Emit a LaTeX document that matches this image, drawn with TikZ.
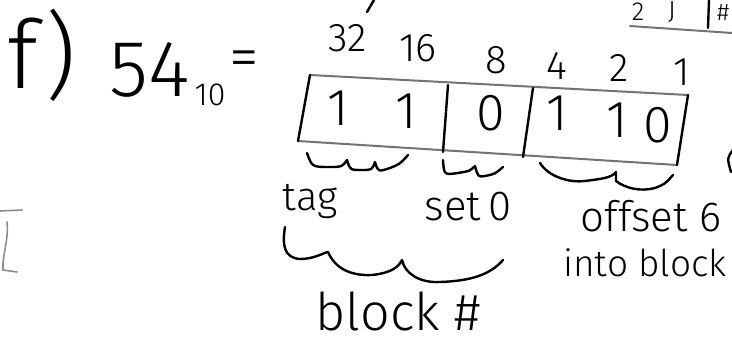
\documentclass[tikz,border=0pt]{standalone}
\usepackage{fontspec}
\newfontfamily\handfont{Fira Sans Light}

\begin{document}
\begin{tikzpicture}[x=1pt,y=-1pt,
  ink/.style={line width=2.4pt,line cap=round,line join=round},
  pencil/.style={line width=2pt,black!55,line cap=round},
  faint/.style={line width=1.6pt,black!45,line cap=round},
  lbl/.style={inner sep=0pt,font=\handfont\fontsize{#1}{#1}\selectfont}]
  \useasboundingbox (0,0) rectangle (732,343);

  % --- left hand side ---
  \node[lbl=95] (part) at (42,55) {f)};
  \node[lbl=80] (dec) at (150,70) {54};
  \node[lbl=32] (base) at (210,95) {10};
  \node[lbl=60] (eq) at (244,64) {=};

  % --- place values (top) ---
  \foreach \x/\y/\v [count=\i] in {348/38/32,418/48/16,496/60/8,557/66/4,619/68/2,682/72/1} {
    \node[lbl=40] (pv\i) at (\x,\y) {\v};
  }

  % --- the box ---
  \coordinate (tl) at (310,75);
  \coordinate (tr) at (688,95);
  \coordinate (br) at (677,165);
  \coordinate (bl) at (298,141);
  \draw[pencil] (tl) -- (tr);
  \draw[pencil] (bl) -- (br);
  \draw[ink] (tl) -- (bl);
  \draw[ink] (tr) -- (br);
  \draw[ink] (448,85) -- (443,152);
  \draw[ink] (533,88) -- (523,157);

  % --- bits ---
  \foreach \x/\y/\b [count=\i] in {338/108/1,406/111/1,491/113/0,557/113/1,617/120/1,658/125/0} {
    \node[lbl=52] (bit\i) at (\x,\y) {\b};
  }

  % --- small braces under the fields ---
  \draw[ink] (307,153) .. controls (312,167) .. (330,167) .. controls (342,167) .. (347,160)
             .. controls (350,170) .. (362,170) .. controls (372,170) .. (375,162)
             .. controls (378,172) .. (390,168) .. controls (400,164) .. (408,155);
  \draw[ink] (443,160) .. controls (444,175) .. (458,173) .. controls (470,171) .. (475,166)
             .. controls (478,177) .. (485,176) .. controls (495,174) .. (503,167);
  \draw[ink] (540,163) .. controls (548,176) and (568,183) .. (585,181)
             .. controls (600,179) and (612,178) .. (616,172) -- (616,181)
             .. controls (625,188) and (640,192) .. (655,188) .. controls (665,184) .. (673,175);

  % --- field names ---
  \node[lbl=40] (tag) at (310,201) {tag};
  \node[lbl=42] (set) at (468,207) {set\,0};
  \node[lbl=42] (off) at (651,216) {offset 6};
  \node[lbl=37,anchor=west] (into) at (563,263) {into block};

  % --- big brace + block number ---
  \draw[ink] (285,227) .. controls (282,245) and (284,258) .. (300,259)
             .. controls (315,259) and (325,252) .. (328,252)
             .. controls (335,268) and (350,276) .. (372,275)
             .. controls (390,273) and (398,268) .. (402,260)
             .. controls (405,274) and (420,283) .. (440,282)
             .. controls (470,281) and (490,275) .. (503,260);
  \node[lbl=52] (blk) at (398,311) {block \#};

  % --- bits of neighbouring notes ---
  \node[lbl=26] (frag1) at (638,12) {2};
  \node[lbl=26] (frag2) at (672,12) {J};
  \draw[ink] (709,0) -- (708,28);
  \node[lbl=24,anchor=west] (frag3) at (717,13) {\#};
  \draw[pencil] (630,26) -- (732,33);
  \draw[ink] (374,0) -- (367,12);
  \draw[ink] (733,150) .. controls (727,158) .. (731,172);
  \draw[faint] (0,211) -- (22,210);
  \draw[faint] (7,222) .. controls (9,240) and (2,255) .. (3,270) -- (17,272);
\end{tikzpicture}
\end{document}
